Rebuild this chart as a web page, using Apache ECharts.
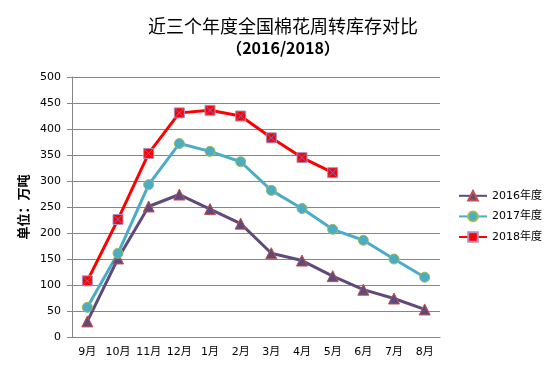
<!DOCTYPE html>
<html><head><meta charset="utf-8">
<script src="https://cdn.jsdelivr.net/npm/echarts@6/dist/echarts.min.js"></script>
<style>html,body{margin:0;padding:0;background:#fff}#c{width:558px;height:373px}</style>
</head><body><div id="c"></div>
<script>
var categories = ['9月','10月','11月','12月','1月','2月','3月','4月','5月','6月','7月','8月'];
var s2016 = [30, 151, 251, 274, 246, 218, 161, 147, 117, 91, 74, 53];
var s2017 = [57, 161, 293, 372, 357, 337, 282, 247, 207, 186, 150, 115];
var s2018 = [108, 226, 353, 431, 436, 425, 383, 345, 316];
var names = ['2016年度','2017年度','2018年度'];
var yTicks = {min: 0, max: 500, interval: 50};

var chart = echarts.init(document.getElementById('c'));
var cjk = '"Noto Sans CJK SC", "DejaVu Sans", sans-serif';
var num = '"DejaVu Sans", "Noto Sans CJK SC", sans-serif';
chart.setOption({
  animation: false,
  backgroundColor: '#fff',
  title: [{
    text: '近三个年度全国棉花周转库存对比',
    left: 278, top: 12, textAlign: 'center',
    textStyle: {fontFamily: cjk, fontSize: 18, fontWeight: 'normal', color: '#000'}
  }, {
    text: '（2016/2018）',
    left: 278, top: 35, textAlign: 'center',
    textStyle: {fontFamily: cjk, fontSize: 16, fontWeight: 'bold', color: '#000'}
  }],
  legend: {
    orient: 'vertical', left: 453, top: 185, itemGap: 9, itemWidth: 28, itemHeight: 12,
    data: names,
    textStyle: {fontFamily: num, fontSize: 11, color: '#000'}
  },
  grid: {left: 72, right: 118, top: 77, bottom: 36},
  xAxis: {
    type: 'category', data: categories, boundaryGap: true,
    axisLine: {lineStyle: {color: '#868686', width: 1}},
    axisTick: {show: false},
    axisLabel: {fontFamily: num, fontSize: 11, color: '#000', margin: 10, interval: 0}
  },
  yAxis: {
    type: 'value', min: yTicks.min, max: yTicks.max, interval: yTicks.interval,
    name: '单位：万吨', nameLocation: 'middle', nameGap: 41, nameRotate: 90,
    nameTextStyle: {fontFamily: cjk, fontSize: 13, fontWeight: 'bold', color: '#000'},
    axisLine: {show: true, lineStyle: {color: '#868686', width: 1}},
    axisTick: {show: true, length: 5, lineStyle: {color: '#868686'}},
    axisLabel: {fontFamily: num, fontSize: 11, color: '#000', margin: 11},
    splitLine: {lineStyle: {color: '#868686', width: 1}}
  },
  series: [{
    name: names[0], type: 'line', data: s2016,
    symbol: 'triangle', symbolSize: 11,
    lineStyle: {color: '#604A7B', width: 3},
    itemStyle: {color: '#604A7B', borderColor: '#C0504D', borderWidth: 1}
  }, {
    name: names[1], type: 'line', data: s2017,
    symbol: 'circle', symbolSize: 10,
    lineStyle: {color: '#4BACC6', width: 3},
    itemStyle: {color: '#4BACC6', borderColor: '#9BBB59', borderWidth: 1}
  }, {
    name: names[2], type: 'line', data: s2018,
    symbol: 'rect', symbolSize: 10,
    lineStyle: {color: '#FF0000', width: 3},
    itemStyle: {color: '#FF0000', borderColor: '#B090C0', borderWidth: 1}
  }, {
    name: 'x2018', type: 'line', data: s2018, z: 5,
    lineStyle: {width: 0, opacity: 0},
    symbol: 'path://M0,0L10,10M10,0L0,10', symbolSize: 8,
    itemStyle: {color: 'none', borderColor: '#7070D0', borderWidth: 1},
    silent: true
  }]
});
</script>
</body></html>
